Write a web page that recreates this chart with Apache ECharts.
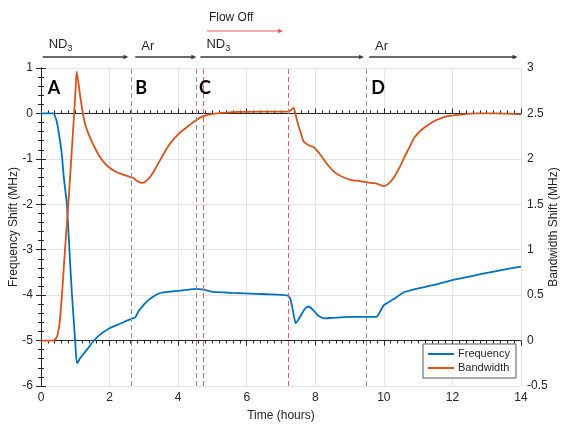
<!DOCTYPE html>
<html>
<head>
<meta charset="utf-8">
<script src="https://cdn.jsdelivr.net/npm/echarts@6/dist/echarts.min.js"></script>
<style>
html,body{margin:0;padding:0;background:#fff;}
#c{width:563px;height:425px;}
</style>
</head>
<body>
<div id="c"></div>
<script>
// ---- Data ----
const xTicks = [0, 2, 4, 6, 8, 10, 12, 14];
const freqData = [
  [0,0],[0.36,0],[0.45,-0.15],[0.5,-0.34],[0.6,-0.85],[0.67,-1.44],[0.75,-1.95],[0.8,-2.6],
  [0.85,-3.3],[0.9,-3.95],[0.95,-4.5],[1.0,-5.05],[1.05,-5.5],[1.15,-5.38],[1.34,-5.2],
  [1.52,-5.02],[1.72,-4.87],[2.0,-4.73],[2.21,-4.66],[2.45,-4.58],[2.65,-4.52],[2.75,-4.49],
  [2.85,-4.35],[3.0,-4.21],[3.15,-4.1],[3.28,-4.03],[3.42,-3.97],[3.57,-3.94],[3.8,-3.92],
  [4.06,-3.9],[4.3,-3.88],[4.53,-3.86],[4.74,-3.88],[5.03,-3.93],[5.6,-3.95],[6.6,-3.98],
  [7.2,-4.01],[7.28,-4.1],[7.35,-4.35],[7.43,-4.62],[7.5,-4.55],[7.6,-4.42],[7.7,-4.3],
  [7.8,-4.25],[7.9,-4.3],[8.0,-4.38],[8.1,-4.46],[8.25,-4.51],[8.5,-4.5],[9.0,-4.48],
  [9.5,-4.48],[9.78,-4.48],[9.9,-4.35],[10.0,-4.22],[10.15,-4.15],[10.3,-4.08],[10.45,-4.0],
  [10.6,-3.93],[10.8,-3.89],[11.0,-3.85],[11.5,-3.77],[12.0,-3.67],[12.5,-3.59],[13.0,-3.51],
  [13.5,-3.44],[14.0,-3.37]
];
const bwData = [
  [0,0],[0.35,0],[0.45,0.03],[0.5,0.09],[0.55,0.22],[0.6,0.45],[0.65,0.72],[0.7,1.0],
  [0.8,1.52],[0.9,2.1],[1.0,2.7],[1.04,2.96],[1.14,2.7],[1.23,2.48],[1.33,2.33],[1.53,2.15],
  [1.72,2.02],[1.91,1.93],[2.2,1.855],[2.6,1.8],[2.7,1.79],[2.79,1.76],[2.94,1.735],[3.05,1.75],
  [3.18,1.8],[3.3,1.87],[3.45,1.97],[3.6,2.07],[3.77,2.17],[4.0,2.27],[4.26,2.35],[4.5,2.42],
  [4.74,2.47],[5.0,2.495],[5.6,2.515],[6.5,2.52],[7.22,2.52],[7.3,2.54],[7.37,2.56],[7.45,2.45],
  [7.52,2.35],[7.6,2.26],[7.66,2.19],[7.8,2.15],[7.95,2.13],[8.05,2.09],[8.16,2.04],[8.35,1.94],
  [8.54,1.86],[8.8,1.8],[9.03,1.77],[9.3,1.755],[9.52,1.74],[9.77,1.73],[9.9,1.71],[10.0,1.70],
  [10.15,1.73],[10.3,1.8],[10.45,1.9],[10.6,2.02],[10.75,2.13],[10.9,2.24],[11.1,2.32],
  [11.28,2.37],[11.55,2.43],[11.86,2.47],[12.3,2.49],[12.74,2.5],[13.3,2.5],[14.0,2.49]
];
const grayEventTimes = [2.62, 4.53, 9.5];
const redEventTimes = [4.72, 7.21];
const phaseNames = ['ND{s|3}', 'Ar', 'ND{s|3}', 'Ar'];
const phaseStarts = [0.05, 2.75, 4.65, 9.57];
const phaseEnds = [2.55, 4.53, 9.42, 13.9];
const flowOffStart = 4.84;
const flowOffEnd = 7.06;
const panelLetters = ['A', 'B', 'C', 'D'];
const panelTimes = [0.38, 2.92, 4.78, 9.83];
const panelLevel = 0.56;

const FONT = '"Liberation Sans", Arial, sans-serif';
const TXT = '#262626';
const BLUE = '#0072BD';
const ORANGE = '#D95319';

const chart = echarts.init(document.getElementById('c'), null, {renderer: 'canvas'});

const markLineData = [
  ...grayEventTimes.map(t => ({xAxis: t, lineStyle: {color: '#8f8f8f', type: [5, 3], width: 1}})),
  ...redEventTimes.map(t => ({xAxis: t, lineStyle: {color: '#f26065', type: [5, 3], width: 1.1}}))
];

const axisCommon = {
  axisLine: {show: true, lineStyle: {color: TXT, width: 1}},
  axisTick: {show: true, inside: true, length: 5, lineStyle: {color: TXT}},
  minorTick: {show: true, length: 3, lineStyle: {color: TXT}},
  axisLabel: {color: TXT, fontFamily: FONT, fontSize: 12},
  nameMoveOverlap: false,
  nameTextStyle: {color: TXT, fontFamily: FONT, fontSize: 12}
};

chart.setOption({
  animation: false,
  backgroundColor: '#fff',
  grid: {left: 41, top: 68, width: 480, height: 318, containLabel: false, outerBoundsMode: 'none'},
  xAxis: [
    Object.assign({}, axisCommon, {
      type: 'value', min: 0, max: 14, interval: 2, position: 'bottom',
      name: 'Time (hours)', nameLocation: 'middle', nameGap: 24,
      minorTick: Object.assign({}, axisCommon.minorTick, {splitNumber: 10}),
      axisLabel: Object.assign({}, axisCommon.axisLabel, {margin: 6}),
      splitLine: {show: true, lineStyle: {color: '#e4e4e4', width: 1}}
    }),
    Object.assign({}, axisCommon, {
      type: 'value', min: 0, max: 14, interval: 2, position: 'top',
      minorTick: Object.assign({}, axisCommon.minorTick, {splitNumber: 10}),
      axisLabel: {show: false}, splitLine: {show: false}
    })
  ],
  yAxis: [
    Object.assign({}, axisCommon, {
      type: 'value', min: -6, max: 1, interval: 1, position: 'left',
      name: 'Frequency Shift (MHz)', nameLocation: 'middle', nameGap: 21,
      minorTick: Object.assign({}, axisCommon.minorTick, {splitNumber: 5}),
      axisLabel: Object.assign({}, axisCommon.axisLabel, {margin: 8}),
      splitLine: {show: true, lineStyle: {color: '#e4e4e4', width: 1}}
    }),
    Object.assign({}, axisCommon, {
      type: 'value', min: -0.5, max: 3, interval: 0.5, position: 'right',
      name: 'Bandwidth Shift (MHz)', nameLocation: 'middle', nameGap: 27,
      minorTick: Object.assign({}, axisCommon.minorTick, {splitNumber: 5}),
      axisLabel: Object.assign({}, axisCommon.axisLabel, {margin: 6}),
      splitLine: {show: false}
    })
  ],
  legend: {
    data: ['Frequency', 'Bandwidth'],
    orient: 'vertical', left: 423, top: 344,
    selectedMode: false,
    backgroundColor: '#fff', borderColor: '#5a5a5a', borderWidth: 1,
    padding: [4, 6, 4, 5], itemGap: 2,
    icon: 'rect', itemWidth: 26, itemHeight: 2,
    textStyle: {color: TXT, fontFamily: FONT, fontSize: 11, lineHeight: 12, padding: [0, 0, 0, -1]}
  },
  series: [
    {
      name: 'Frequency', type: 'line', xAxisIndex: 0, yAxisIndex: 0,
      data: freqData, showSymbol: false, symbol: 'none',
      smooth: 0.2,
      lineStyle: {color: BLUE, width: 1.8}, itemStyle: {color: BLUE},
      z: 3,
      markLine: {silent: true, symbol: 'none', label: {show: false}, data: markLineData}
    },
    {
      name: 'Bandwidth', type: 'line', xAxisIndex: 0, yAxisIndex: 1,
      data: bwData, showSymbol: false, symbol: 'none',
      smooth: 0.2,
      lineStyle: {color: ORANGE, width: 1.8}, itemStyle: {color: ORANGE},
      z: 4
    }
  ]
});

// ---- Annotations placed through the axis scales ----
function px(t) { return chart.convertToPixel({xAxisIndex: 0}, t); }
function py(v) { return chart.convertToPixel({yAxisIndex: 0}, v); }

function arrow(x1, x2, y, color, w) {
  return [
    {type: 'line', shape: {x1: x1, y1: y, x2: x2 - 3, y2: y}, style: {stroke: color, lineWidth: w}, silent: true},
    {type: 'polygon', shape: {points: [[x2, y], [x2 - 5, y - 2.2], [x2 - 5, y + 2.2]]}, style: {fill: color}, silent: true}
  ];
}

const g = [];
const arrowY = 57;
for (let i = 0; i < phaseNames.length; i++) {
  const x1 = px(phaseStarts[i]), x2 = px(phaseEnds[i]);
  g.push(...arrow(x1, x2, arrowY, '#3a3a3a', 1.3));
  g.push({
    type: 'text', x: x1 + 6, y: arrowY - 4, silent: true,
    style: {
      text: phaseNames[i], fill: TXT, fontFamily: FONT, fontSize: 13,
      verticalAlign: 'bottom', align: 'left',
      rich: {s: {fontSize: 9, fontFamily: FONT, fill: TXT, padding: [9, 0, 0, 0]}}
    }
  });
}
const fx1 = px(flowOffStart), fx2 = px(flowOffEnd);
g.push(...arrow(fx1, fx2, 31, '#f0545a', 1.2));
g.push({
  type: 'text', x: fx1 + 2, y: 24, silent: true,
  style: {text: 'Flow Off', fill: TXT, fontFamily: FONT, fontSize: 12, verticalAlign: 'bottom', align: 'left'}
});
for (let i = 0; i < panelLetters.length; i++) {
  g.push({
    type: 'text', x: px(panelTimes[i]), y: py(panelLevel), silent: true, z: 10,
    style: {
      text: panelLetters[i], fill: '#000', fontFamily: 'Lato, "Open Sans", sans-serif',
      fontWeight: 'bold', fontSize: 18, align: 'center', verticalAlign: 'middle'
    }
  });
}
chart.setOption({graphic: g});
</script>
</body>
</html>
